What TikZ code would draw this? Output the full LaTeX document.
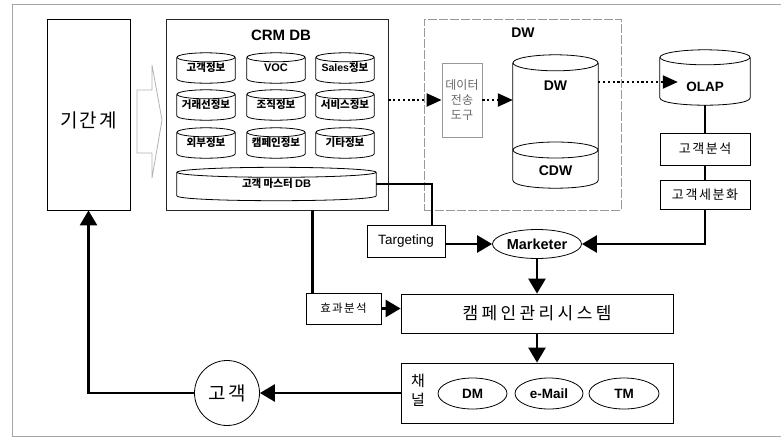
\documentclass[tikz,border=0pt]{standalone}
\usepackage{fontspec}
\setmainfont{Liberation Sans}
\newfontfamily\kr{Noto Sans CJK KR}
\newfontfamily\krw[LetterSpace=12]{Noto Sans CJK KR}
\usetikzlibrary{arrows.meta,calc,shapes.geometric}

\newcommand\fs[1]{\fontsize{#1}{#1}\selectfont}

% cylinder outline around a (borderless) node: name, half width, cap radius
\newcommand\cylinderof[3]{%
  \draw[cylline] ($(#1.north west)+(0,#3)$) -- ($(#1.south west)+(0,-#3)$)
    .. controls +(0,{4/3*#3}) and ($(#1.south east)+(0,{#3/3})$) .. ($(#1.south east)+(0,-#3)$)
    -- ($(#1.north east)+(0,#3)$);
  \draw[cylline] ($(#1.north)+(0,#3)$) ellipse[x radius=#2pt, y radius=#3pt];
}

\tikzset{
  box/.style={draw, line width=0.8pt, inner sep=0pt},
  cylbody/.style={inner sep=0pt, draw=none},
  cylline/.style={draw, line width=0.8pt},
  conn/.style={line width=2.6pt},
  arr/.style={conn, -{Triangle[length=15pt,width=17pt]}},
  dotarr/.style={line width=2.2pt, dash pattern=on 2.2pt off 2.6pt,
                 -{Triangle[length=15pt,width=13pt]}},
  oval/.style={ellipse, draw, line width=0.8pt, inner sep=0pt},
  smallkr/.style={font=\kr\bfseries\fs{10.5}},
  smallen/.style={font=\bfseries\fs{11}}
}

\begin{document}
\begin{tikzpicture}[x=1pt, y=-1pt]
\useasboundingbox (0,0) rectangle (781,437);

% outer frame
\draw[gray!70, line width=0.6pt] (781,4) -- (12,4) -- (12,436) -- (781,436);

% legacy systems
\node[box, minimum width=83pt, minimum height=191pt] (legacy) at (88.5,114.5) {};
\node (legacytxt) at (88.5,120) {\krw\fs{19}기간계};

% hollow block arrow
\draw[gray!60, line width=0.8pt] (137,90) -- (152,90) -- (152,65) -- (162,120)
  -- (152,178) -- (152,153) -- (137,153) -- cycle;

% CRM DB
\node[box, draw=black!85, minimum width=222pt, minimum height=191pt] (crm) at (277,114.5) {};
\node (crmtitle) at (281,35) {\bfseries\fs{15}CRM DB};

\node[cylbody, minimum width=58pt, minimum height=30pt, smallkr] (c11) at (206,68) {고객정보};
\node[cylbody, minimum width=58pt, minimum height=30pt, smallen] (c12) at (276,68) {VOC};
\node[cylbody, minimum width=58pt, minimum height=30pt] (c13) at (345,68) {{\bfseries\fs{10.5}Sales}{\kr\bfseries\fs{10.5}정보}};
\node[cylbody, minimum width=58pt, minimum height=30pt, smallkr] (c21) at (206,105) {거래선정보};
\node[cylbody, minimum width=58pt, minimum height=30pt, smallkr] (c22) at (276,105) {조직정보};
\node[cylbody, minimum width=58pt, minimum height=30pt, smallkr] (c23) at (345,105) {서비스정보};
\node[cylbody, minimum width=58pt, minimum height=30pt, smallkr] (c31) at (206,143) {외부정보};
\node[cylbody, minimum width=58pt, minimum height=30pt, smallkr] (c32) at (276,143) {캠페인정보};
\node[cylbody, minimum width=58pt, minimum height=30pt, smallkr] (c33) at (345,143) {기타정보};
\foreach \n in {c11,c12,c13,c21,c22,c23,c31,c32,c33} {\cylinderof{\n}{29}{4.5}}

\node[cylbody, minimum width=199pt, minimum height=33pt] (mdb) at (276.5,184)
  {{\kr\bfseries\fs{10.5}고객 마스터 }{\bfseries\fs{11}DB}};
\cylinderof{mdb}{99.5}{5}

% DW
\node[box, draw=gray!80, dash pattern=on 9pt off 2pt, minimum width=197pt, minimum height=191pt] (dw) at (522.5,114.5) {};
\node (dwtitle) at (523,33) {\bfseries\fs{14}DW};
\node[box, draw=gray!80, minimum width=40pt, minimum height=74pt, align=center,
      text=black!60, font=\kr\fs{12}] (xfer) at (462,100) {데이터\\[3pt]전송\\[3pt]도구};
\node[cylbody, minimum width=85pt, minimum height=133pt] (dwc) at (555.5,121.5) {};
\cylinderof{dwc}{42.5}{8}
\draw[cylline] (dwc.center |- 0,150) ellipse[x radius=42.5pt, y radius=8pt];
\node (dwctxt) at ($(dwc.center)+(0,-36)$) {\bfseries\fs{14}DW};
\node (cdwtxt) at ($(dwc.center)+(0,49)$) {\bfseries\fs{14}CDW};

% OLAP and analysis
\node[cylbody, minimum width=90pt, minimum height=55pt] (olap) at (705,77.5) {};
\cylinderof{olap}{45}{7.5}
\node (olaptxt) at ($(olap.center)+(0,9)$) {\bfseries\fs{13.5}OLAP};
\node[box, minimum width=90pt, minimum height=32pt, font=\krw\fs{13}] (ana) at (705,149) {고객분석};
\node[box, minimum width=90pt, minimum height=29pt, font=\krw\fs{13}] (seg) at (705,194.5) {고객세분화};

% marketing
\node[box, minimum width=78pt, minimum height=32pt, font=\fs{13.5}] (tgt) at (406,241) {Targeting};
\node[oval, minimum width=89pt, minimum height=29pt, font=\bfseries\fs{14.5}] (mkt) at (537,244) {Marketer};
\node[box, minimum width=75pt, minimum height=31pt, font=\krw\fs{11.5}] (eff) at (343.5,308.5) {효과분석};
\node[box, minimum width=272pt, minimum height=39pt] (camp) at (537,313.5)
  {\kr\addfontfeatures{LetterSpace=20}\fs{17}캠페인관리시스템};

% channels
\node[box, minimum width=272pt, minimum height=60pt] (chan) at (537,393) {};
\node[align=center, font=\kr\fs{15}, inner sep=0pt] (chlabel) at (418,390) {채\\[4pt]널};
\node[oval, minimum width=69pt, minimum height=31pt, font=\bfseries\fs{13.5}] (dm) at (472.5,393.5) {DM};
\node[oval, minimum width=68pt, minimum height=31pt, font=\bfseries\fs{13.5}] (mail) at (549,393.5) {e-Mail};
\node[oval, minimum width=70pt, minimum height=31pt, font=\bfseries\fs{13.5}] (tm) at (624,393.5) {TM};

% customer
\node[circle, draw, line width=0.8pt, minimum size=65pt, inner sep=0pt, font=\krw\fs{19}] (cust) at (227,393) {고객};

% data flow (dotted)
\coordinate (olapin) at ($(olap.west)+(18,4.5)$);
\draw[dotarr] (crm.east |- xfer.west) -- (xfer.west);
\draw[dotarr] (xfer.east) -- (xfer.east -| dwc.west);
\draw[dotarr] (dwc.east |- olapin) -- (olapin);

% solid connectors
\draw[conn] (olap.south) -- (ana.north);
\draw[conn] (ana.south) -- (seg.north);
\draw[conn] (mdb.east) -| ([xshift=26pt]tgt.north);
\draw[arr] (tgt.east |- mkt.west) -- (mkt.west);
\draw[arr] (seg.south) |- (mkt.east);
\coordinate (efftop) at ([xshift=7pt]eff.north west);
\draw[conn] (crm.south -| efftop) -- (efftop);
\draw[arr] (eff.east) -- (eff.east -| camp.west);
\draw[arr] (mkt.south) -- (camp.north);
\draw[arr] (camp.south) -- (chan.north);
\draw[arr] (chan.west) -- (cust.east);
\draw[arr] (cust.west) -| (legacy.south);
\end{tikzpicture}
\end{document}
